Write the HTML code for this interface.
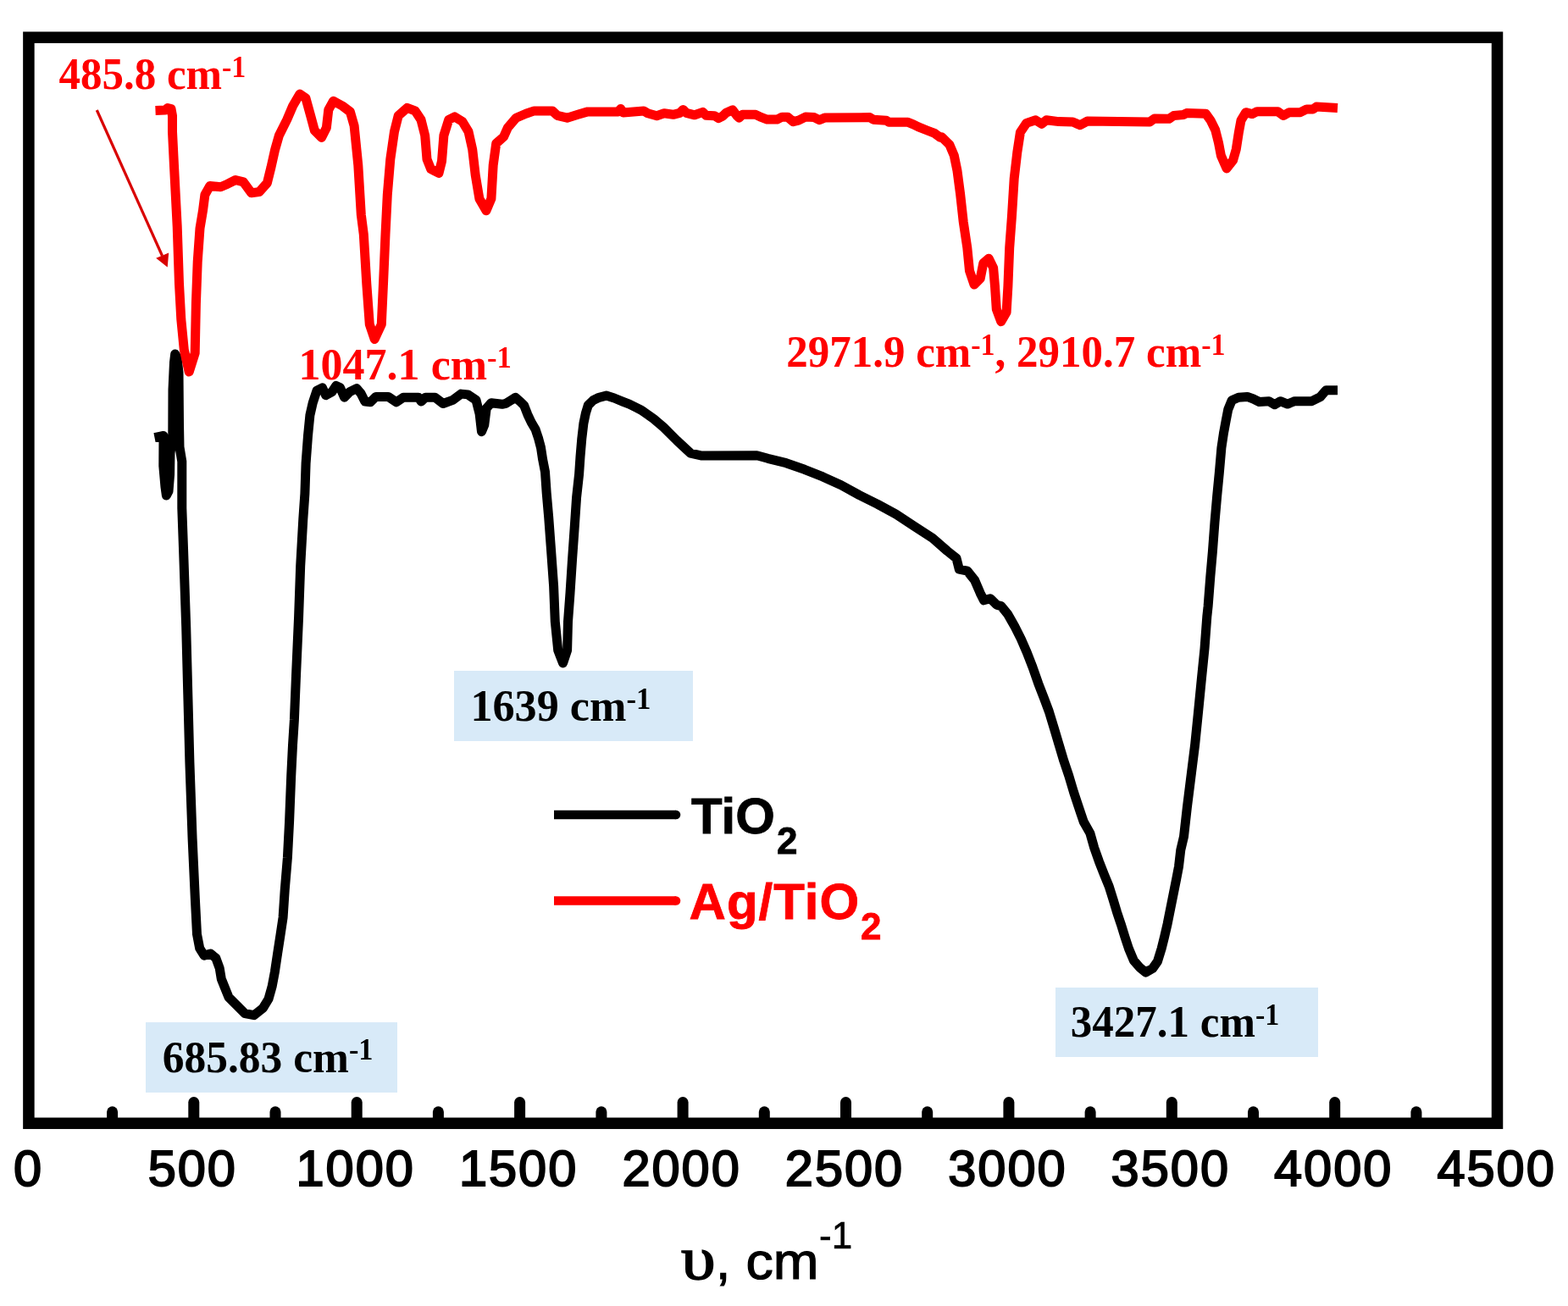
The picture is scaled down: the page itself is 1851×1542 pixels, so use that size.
<!DOCTYPE html>
<html><head><meta charset="utf-8"><style>
html,body{margin:0;padding:0;background:#fff;}
body{width:1851px;height:1542px;overflow:hidden;}
svg{display:block;}
.ax{font-family:"Liberation Sans",Arial,sans-serif;}
.an{font-family:"Liberation Serif","Times New Roman",serif;font-weight:bold;}
</style></head><body>
<svg width="1851" height="1542" viewBox="0 0 1851 1542">
<rect x="0" y="0" width="1851" height="1542" fill="#fff"/>
<!-- annotation boxes -->
<rect x="536" y="792" width="282" height="83" fill="#D8EAF8"/>
<rect x="172" y="1207" width="297" height="83" fill="#D8EAF8"/>
<rect x="1246" y="1166" width="310" height="82" fill="#D8EAF8"/>
<!-- frame -->
<rect x="33.9" y="44.2" width="1733.6" height="1282.1" fill="none" stroke="#000" stroke-width="13.5" stroke-linejoin="miter"/>
<g stroke="#000" stroke-width="13" stroke-linecap="round">
<line x1="132.6" y1="1312.8" x2="132.6" y2="1322"/>
<line x1="228.8" y1="1301.5" x2="228.8" y2="1322"/>
<line x1="325.0" y1="1312.8" x2="325.0" y2="1322"/>
<line x1="421.2" y1="1301.5" x2="421.2" y2="1322"/>
<line x1="517.4" y1="1312.8" x2="517.4" y2="1322"/>
<line x1="613.6" y1="1301.5" x2="613.6" y2="1322"/>
<line x1="709.9" y1="1312.8" x2="709.9" y2="1322"/>
<line x1="806.1" y1="1301.5" x2="806.1" y2="1322"/>
<line x1="902.3" y1="1312.8" x2="902.3" y2="1322"/>
<line x1="998.5" y1="1301.5" x2="998.5" y2="1322"/>
<line x1="1094.7" y1="1312.8" x2="1094.7" y2="1322"/>
<line x1="1190.9" y1="1301.5" x2="1190.9" y2="1322"/>
<line x1="1287.1" y1="1312.8" x2="1287.1" y2="1322"/>
<line x1="1383.3" y1="1301.5" x2="1383.3" y2="1322"/>
<line x1="1479.5" y1="1312.8" x2="1479.5" y2="1322"/>
<line x1="1575.7" y1="1301.5" x2="1575.7" y2="1322"/>
<line x1="1671.9" y1="1312.8" x2="1671.9" y2="1322"/>
</g>
<g class="ax" font-size="59.5" text-anchor="middle" fill="#000" stroke="#000" stroke-width="2" font-weight="normal" letter-spacing="2">
<text x="33.6" y="1399.5">0</text>
<text x="227.3" y="1399.5">500</text>
<text x="419.7" y="1399.5">1000</text>
<text x="612.1" y="1399.5">1500</text>
<text x="804.6" y="1399.5">2000</text>
<text x="997.0" y="1399.5">2500</text>
<text x="1189.4" y="1399.5">3000</text>
<text x="1381.8" y="1399.5">3500</text>
<text x="1574.2" y="1399.5">4000</text>
<text x="1766.6" y="1399.5">4500</text>
</g>
<!-- curves -->
<polyline points="182.5,516.6 193.0,514.5 192.8,550.0 195.0,575.0 196.4,585.0 199.0,580.0 200.6,560.0 201.0,535.0 203.8,515.0 204.0,460.0 205.5,428.0 206.7,418.0 209.0,422.0 211.0,440.0 211.5,500.0 212.0,528.0 214.8,545.0 214.8,600.0 216.6,650.0 219.7,740.0 221.8,820.0 223.9,900.0 227.1,990.0 230.3,1060.0 232.5,1103.0 235.7,1119.6 241.0,1128.1 248.5,1126.0 254.9,1131.3 259.2,1143.1 261.3,1155.9 265.6,1166.6 269.9,1177.3 278.4,1185.9 289.1,1196.6 299.8,1198.7 310.5,1190.2 317.0,1179.5 321.2,1164.5 324.4,1147.4 327.6,1126.0 330.9,1104.6 334.1,1083.2 336.2,1051.1 339.4,1012.6 341.6,969.8 343.7,916.4 345.5,880.0 347.4,850.0 349.5,798.0 352.6,728.0 354.7,668.0 357.8,613.0 359.9,583.0 361.1,547.0 363.5,514.6 365.9,490.2 369.2,475.7 374.0,461.1 380.5,457.8 384.6,466.7 391.9,462.7 396.7,455.4 401.6,457.8 406.5,469.2 412.9,462.7 421.0,458.6 425.9,464.3 430.8,474.0 437.2,474.8 443.7,468.4 458.3,468.4 468.0,474.8 476.1,469.2 494.0,469.2 497.2,474.0 502.1,469.2 513.4,469.2 523.1,476.5 534.5,472.4 544.2,465.1 552.3,465.9 562.0,472.4 566.1,488.6 568.5,509.7 571.8,501.6 574.2,482.1 579.9,475.7 592.8,477.3 597.1,476.4 602.8,472.8 608.6,469.3 614.3,474.3 618.6,478.6 622.8,489.3 627.1,498.5 632.1,507.1 635.7,517.8 638.5,528.5 640.7,542.8 643.5,557.1 645.2,582.2 647.7,610.8 650.2,644.6 653.6,691.8 655.3,734.0 658.7,767.7 664.6,782.9 669.6,767.7 670.5,734.0 673.0,700.2 675.5,661.4 678.1,624.3 680.6,587.2 683.6,559.8 685.0,539.2 686.8,517.8 688.9,499.9 691.4,487.8 694.3,478.5 700.0,472.8 707.1,469.3 715.7,467.1 725.0,470.0 735.6,474.3 742.8,477.1 749.9,480.7 757.0,484.2 764.2,489.2 771.3,494.2 783.4,504.5 799.3,520.4 815.2,535.1 828.6,538.1 893.5,537.7 906.4,541.3 928.0,546.7 949.7,554.3 971.3,562.9 992.9,572.7 1014.5,584.6 1036.1,595.4 1057.7,607.2 1079.3,621.3 1100.9,635.3 1118.2,650.5 1129.0,659.1 1132.3,672.1 1142.0,674.2 1150.6,685.0 1157.1,700.2 1161.4,708.8 1169.0,706.7 1176.6,714.2 1181.9,715.6 1189.7,725.3 1197.5,738.9 1205.3,754.4 1212.1,770.0 1218.9,787.5 1225.7,806.9 1232.5,824.4 1238.3,840.0 1244.2,859.4 1250.0,878.9 1255.8,898.3 1261.7,915.8 1267.5,935.3 1273.3,952.8 1279.2,970.3 1286.9,983.9 1291.7,1001.0 1297.5,1017.4 1303.4,1032.5 1309.2,1046.6 1313.9,1061.7 1318.5,1076.9 1323.2,1090.9 1327.9,1106.1 1332.5,1120.1 1338.4,1134.1 1345.4,1142.3 1352.4,1148.1 1360.6,1143.5 1366.4,1135.3 1371.1,1120.1 1374.6,1106.1 1378.1,1090.9 1381.6,1073.4 1385.1,1055.9 1388.6,1038.4 1391.5,1023.2 1393.8,1003.4 1397.5,987.8 1401.3,953.9 1406.0,916.3 1410.7,878.7 1414.5,841.1 1418.2,803.4 1422.0,765.8 1424.8,728.2 1426.1,716.0 1428.8,681.0 1431.4,651.3 1434.0,616.3 1436.6,586.5 1439.3,558.5 1441.9,528.8 1444.5,511.3 1447.1,497.3 1449.8,483.3 1454.1,472.8 1462.0,469.3 1472.5,468.4 1479.5,471.0 1486.5,474.5 1498.0,473.7 1504.7,477.7 1511.4,473.7 1519.9,477.1 1528.3,473.7 1548.5,473.7 1558.6,468.6 1565.3,460.7 1579.0,460.7" fill="none" stroke="#000" stroke-width="11" stroke-linejoin="round" stroke-linecap="butt"/>
<polyline points="183.5,130.5 195.0,130.0 198.0,127.5 202.0,128.5 203.5,136.7 203.5,155.4 205.7,199.7 209.2,267.4 211.5,335.0 213.8,377.0 217.3,413.0 223.2,439.0 230.2,416.8 231.4,358.4 233.2,309.4 236.0,269.7 239.5,248.7 241.9,230.0 247.7,219.6 260.5,220.7 268.7,217.2 278.0,212.5 287.4,214.9 296.7,227.7 306.0,226.6 315.4,216.0 320.0,197.4 324.7,176.4 329.4,160.0 338.7,141.4 345.7,125.0 353.9,111.0 360.9,115.7 366.7,136.7 371.4,154.2 379.6,162.4 385.4,150.7 387.8,129.7 393.6,119.2 404.1,125.0 413.4,132.0 418.1,148.4 422.8,195.0 426.3,253.4 429.3,276.7 432.8,335.1 436.3,383.0 442.2,400.5 450.3,383.0 452.7,330.4 455.0,276.7 457.3,230.0 460.8,188.0 465.5,155.4 470.2,136.7 480.7,127.3 490.0,130.8 497.0,141.4 501.7,160.0 504.0,188.0 508.7,199.7 518.0,204.4 521.5,190.4 523.9,160.0 529.7,141.4 536.7,137.9 546.0,143.7 553.0,155.4 557.7,176.4 561.2,206.7 565.9,234.7 574.0,248.7 579.9,234.7 582.2,195.0 585.7,169.4 594.6,161.5 599.4,150.8 609.2,139.2 620.8,134.3 630.6,130.9 652.0,130.9 657.8,136.3 669.5,139.2 682.1,135.3 693.8,131.9 729.8,131.9 732.7,128.5 735.6,132.9 759.9,130.9 764.6,133.8 775.3,136.7 784.0,133.8 794.7,135.3 802.5,133.3 806.4,129.4 810.3,133.3 820.0,135.8 829.7,132.4 833.6,136.3 843.4,136.7 848.2,139.7 853.1,137.2 857.0,133.3 864.8,129.9 869.6,136.3 872.5,139.2 876.4,135.3 892.0,135.3 897.8,138.2 905.6,141.1 917.3,141.1 923.1,138.2 929.9,138.2 936.4,143.7 942.6,142.2 950.8,138.1 961.1,138.6 967.2,141.7 973.4,139.1 1026.8,138.6 1030.9,141.2 1046.3,142.2 1049.3,144.3 1071.9,144.3 1078.1,146.8 1084.2,149.9 1094.5,154.0 1102.7,157.1 1109.9,162.2 1111.8,161.8 1120.9,170.9 1126.3,183.6 1130.0,201.7 1133.6,229.0 1137.2,261.7 1141.8,292.5 1144.5,319.8 1150.0,336.1 1157.2,328.9 1160.8,310.7 1167.2,305.3 1172.6,316.1 1174.5,338.0 1176.3,365.2 1181.7,379.7 1188.1,368.8 1189.9,338.0 1191.7,292.5 1194.4,256.2 1197.2,210.8 1200.8,179.9 1204.4,156.3 1211.7,145.4 1222.6,141.8 1229.8,146.3 1235.3,141.8 1249.8,143.6 1266.5,144.0 1275.0,147.8 1283.5,143.1 1357.2,144.0 1362.9,139.9 1379.9,140.3 1385.6,136.5 1396.9,135.5 1400.7,133.6 1423.4,134.2 1429.1,142.1 1434.7,153.5 1438.5,168.6 1441.4,183.7 1448.0,198.9 1455.5,189.4 1459.3,176.2 1462.2,157.3 1465.0,142.1 1470.7,132.7 1478.2,134.6 1483.9,131.7 1508.5,131.7 1515.1,136.5 1521.7,132.7 1535.0,132.7 1542.5,128.9 1550.1,128.9 1553.9,126.1 1579.0,127.5" fill="none" stroke="#FF0000" stroke-width="11" stroke-linejoin="round" stroke-linecap="butt"/>
<!-- arrow -->
<line x1="114.3" y1="130" x2="191.5" y2="302" stroke="#D90000" stroke-width="3.2"/>
<polygon points="184.2,304.8 199.2,298.4 197.7,315.5" fill="#D90000"/>
<!-- red annotations -->
<g class="an" fill="#FF0000" font-size="51" font-weight="bold">
<text transform="translate(69.4,105.4) scale(1,1.05)">485.8 cm<tspan font-size="34" dy="-14">-1</tspan></text>
<text transform="translate(352.6,448.2) scale(1.02,1.05)">1047.1 cm<tspan font-size="34" dy="-14">-1</tspan></text>
<text transform="translate(928.2,433.4) scale(1,1.05)">2971.9 cm<tspan font-size="34" dy="-14">-1</tspan><tspan dy="14">, 2910.7 cm</tspan><tspan font-size="34" dy="-14">-1</tspan></text>
</g>
<g class="an" fill="#000" font-size="51" font-weight="bold">
<text transform="translate(555.4,851.2) scale(1.023,1.05)">1639 cm<tspan font-size="34" dy="-14">-1</tspan></text>
<text transform="translate(191.7,1265.9) scale(1.01,1.05)">685.83 cm<tspan font-size="34" dy="-14">-1</tspan></text>
<text transform="translate(1263.8,1224.4) scale(1,1.05)">3427.1 cm<tspan font-size="34" dy="-14">-1</tspan></text>
</g>
<!-- legend -->
<line x1="654" y1="962" x2="798" y2="962" stroke="#000" stroke-width="10.6"/><circle cx="798" cy="962" r="5.3" fill="#000"/>
<line x1="654" y1="1063.5" x2="798" y2="1063.5" stroke="#FF0000" stroke-width="10.6"/><circle cx="798" cy="1063.5" r="5.3" fill="#FF0000"/>
<g class="ax" font-size="60" stroke-width="0.8" font-weight="bold">
<text x="816" y="984" fill="#000" stroke="#000">TiO</text>
<text x="917" y="1008" font-size="44" fill="#000" stroke="#000">2</text>
<text x="813.6" y="1085.4" fill="#FF0000" stroke="#FF0000" letter-spacing="1">Ag/TiO</text>
<text x="1016" y="1109" font-size="44" fill="#FF0000" stroke="#FF0000">2</text>
</g>
<!-- axis title -->
<text transform="translate(804,1510) scale(1.14,1)" font-size="72" class="an" style="font-weight:normal" fill="#000" stroke="#000" stroke-width="1.5">υ</text>
<g class="ax" fill="#000" stroke="#000" stroke-width="1.2">
<text x="845" y="1510" font-size="62">,</text>
<text transform="translate(880.5,1510) scale(1.04,1)" font-size="62">cm</text>
<text x="967" y="1474" font-size="44" stroke-width="0.6">-1</text>
</g>
</svg>
</body></html>
